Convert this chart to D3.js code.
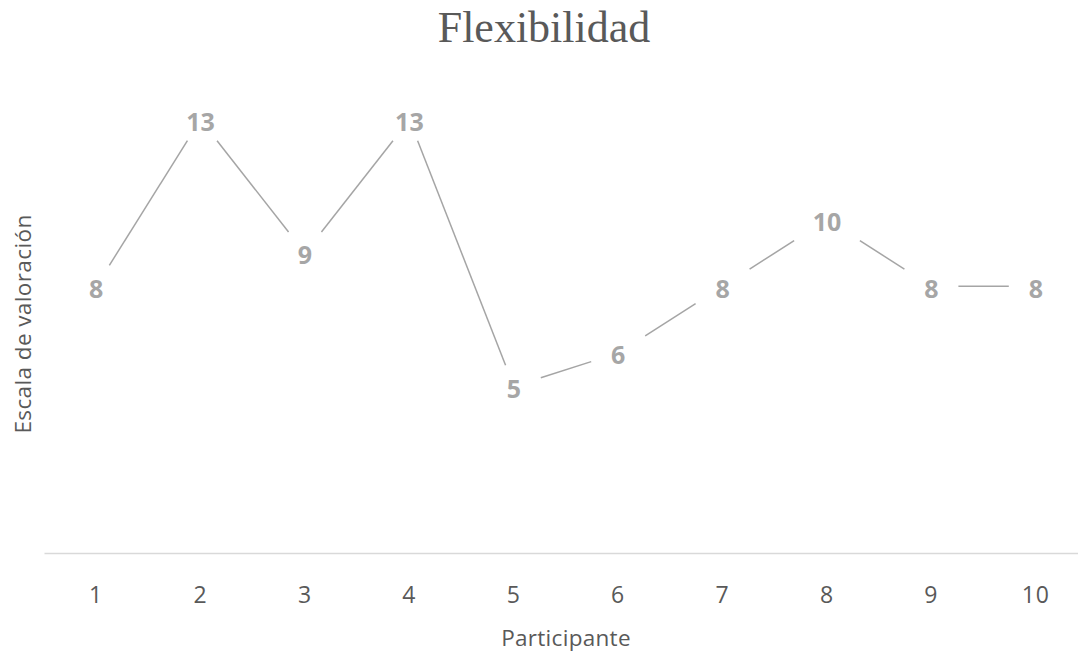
<!DOCTYPE html>
<html>
<head>
<meta charset="utf-8">
<script src="https://cdn.jsdelivr.net/npm/d3@7"></script>
<style>
  html, body { margin: 0; padding: 0; background: #fff; }
  svg { display: block; }
</style>
</head>
<body>
<svg id="chart" width="1078" height="656"></svg>
<script>
// Valoración de flexibilidad por participante
const participants = ["1", "2", "3", "4", "5", "6", "7", "8", "9", "10"];
const scores = [8, 13, 9, 13, 5, 6, 8, 10, 8, 8];
const yDomain = [0, 15];

const svg = d3.select("#chart");
const sansFont = "'Open Sans', 'Noto Sans', sans-serif";

const x = d3.scaleBand().domain(participants).range([44, 1088]).padding(0);
const y = d3.scaleLinear().domain(yDomain).range([553, 53]);
const cx = d => x(d) + x.bandwidth() / 2;

// Título
svg.append("text")
  .attr("x", 544).attr("y", 42)
  .attr("text-anchor", "middle")
  .attr("font-family", "'Liberation Serif', 'Times New Roman', serif")
  .attr("font-size", 44)
  .attr("fill", "#595959")
  .text("Flexibilidad");

// Eje horizontal
const xAxis = svg.append("g")
  .attr("transform", `translate(0,${y(0)})`)
  .call(d3.axisBottom(x).tickSize(0).tickPadding(34));
xAxis.select(".domain").attr("stroke", "#d9d9d9").attr("stroke-width", 1.5);
xAxis.selectAll("text")
  .attr("font-family", sansFont)
  .attr("font-size", 23)
  .attr("letter-spacing", 1)
  .attr("fill", "#595959");

// Títulos de ejes
svg.append("text")
  .attr("x", 566).attr("y", 646)
  .attr("text-anchor", "middle")
  .attr("font-family", sansFont)
  .attr("font-size", 22.5)
  .attr("letter-spacing", 0.3)
  .attr("fill", "#595959")
  .text("Participante");

svg.append("text")
  .attr("transform", `translate(31,324) rotate(-90)`)
  .attr("text-anchor", "middle")
  .attr("font-family", sansFont)
  .attr("font-size", 22.5)
  .attr("letter-spacing", 0.4)
  .attr("fill", "#595959")
  .text("Escala de valoración");

// Serie: segmentos recortados alrededor de las etiquetas
const pts = participants.map((p, i) => ({ p, v: scores[i], x: cx(p), y: y(scores[i]) }));
const halfW = v => (String(v).length > 1 ? 33 : 27);
const halfH = 21;

function offset(dx, dy, hw, hh) {
  const tx = dx === 0 ? Infinity : hw / Math.abs(dx);
  const ty = dy === 0 ? Infinity : hh / Math.abs(dy);
  return Math.min(tx, ty);
}

const segs = d3.pairs(pts).map(([a, b]) => {
  const dx = b.x - a.x, dy = b.y - a.y;
  const t0 = offset(dx, dy, halfW(a.v), halfH);
  const t1 = 1 - offset(dx, dy, halfW(b.v), halfH);
  return { x1: a.x + dx * t0, y1: a.y + dy * t0, x2: a.x + dx * t1, y2: a.y + dy * t1 };
});

svg.append("g").selectAll("line")
  .data(segs)
  .join("line")
  .attr("x1", d => d.x1).attr("y1", d => d.y1)
  .attr("x2", d => d.x2).attr("y2", d => d.y2)
  .attr("stroke", "#a5a5a5")
  .attr("stroke-width", 1.5);

// Etiquetas de datos
svg.append("g").selectAll("text")
  .data(pts)
  .join("text")
  .attr("x", d => d.x)
  .attr("y", d => d.y)
  .attr("dy", "0.45em")
  .attr("text-anchor", "middle")
  .attr("font-family", sansFont)
  .attr("font-weight", "bold")
  .attr("font-size", 25)
  .attr("fill", "#a6a6a6")
  .text(d => d.v);
</script>
</body>
</html>
